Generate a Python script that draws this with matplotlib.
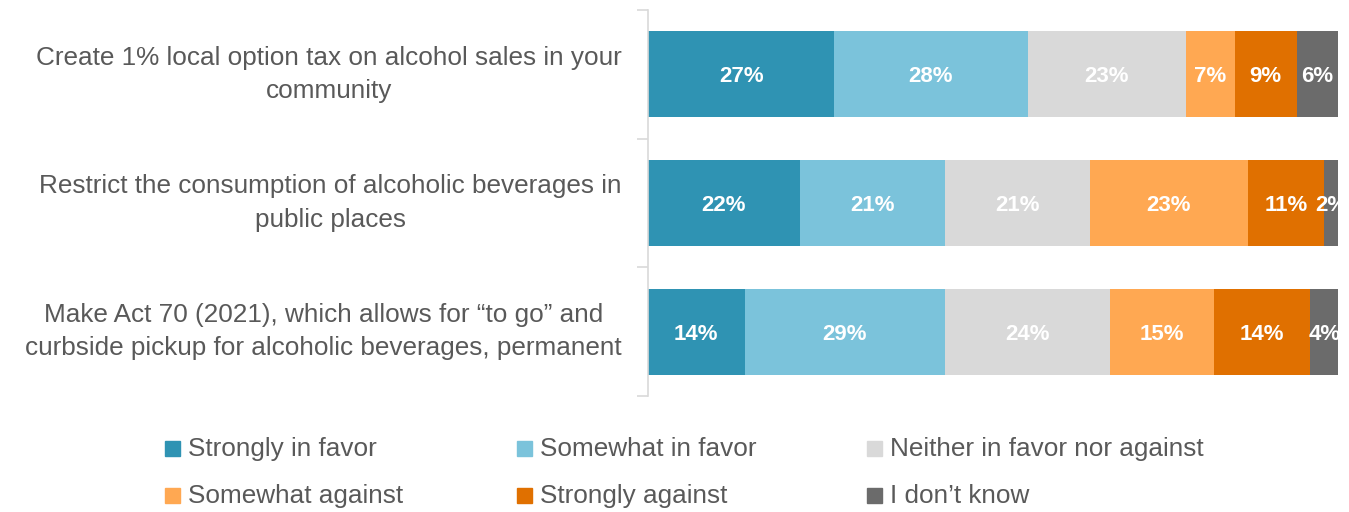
import matplotlib
matplotlib.use("Agg")
import matplotlib.pyplot as plt
from matplotlib.patches import Rectangle

plt.rcParams['font.family'] = ['Liberation Sans', 'DejaVu Sans']

questions = [
    "Create 1% local option tax on alcohol sales in your\ncommunity",
    "Restrict the consumption of alcoholic beverages in\npublic places",
    "Make Act 70 (2021), which allows for \u201cto go\u201d and\ncurbside pickup for alcoholic beverages, permanent",
]
responses = ["Strongly in favor", "Somewhat in favor", "Neither in favor nor against",
             "Somewhat against", "Strongly against", "I don\u2019t know"]
shares = [
    [27, 28, 23, 7, 9, 6],
    [22, 21, 21, 23, 11, 2],
    [14, 29, 24, 15, 14, 4],
]
colors = ["#2F93B3", "#7BC3DB", "#D9D9D9", "#FFA852", "#E07000", "#6B6B6B"]
text_grey = "#595959"

fig = plt.figure(figsize=(13.49, 5.12), dpi=100)
ax = fig.add_axes([648 / 1349, 1 - 396 / 512, 690 / 1349, 386 / 512])

ypos = list(range(len(questions)))
for i, row in enumerate(shares):
    left = 0
    for j, v in enumerate(row):
        ax.barh(i, v, left=left, height=0.67, color=colors[j], edgecolor="none")
        ax.text(left + v / 2, i, f"{v}%", ha="center", va="center_baseline", color="white",
                fontsize=16, fontweight="bold", clip_on=True)
        left += v

ax.set_xlim(0, 100)
ax.set_ylim(len(questions) - 0.5, -0.5)
ax.set_xticks([])
for side in ["top", "right", "bottom"]:
    ax.spines[side].set_visible(False)
ax.spines["left"].set_color("#D9D9D9")
ax.spines["left"].set_linewidth(1.2)

# tick marks sit between categories, labels at the centres
ax.set_yticks([-0.5, 0.5, 1.5, 2.5])
ax.set_yticklabels([])
ax.tick_params(axis="y", which="major", length=8, color="#D9D9D9", width=1.2)
ax.set_yticks(ypos, minor=True)
ax.set_yticklabels(questions, minor=True)
ax.tick_params(axis="y", which="minor", length=0, pad=19, labelsize=18.8, labelcolor=text_grey)
for lbl in ax.get_yticklabels(minor=True):
    lbl.set_multialignment("center")
    lbl.set_verticalalignment("center")
    lbl.set_linespacing(1.5)

# legend, two rows of three
col_x = [165, 517, 867]
row_y = [449, 496]
for k, name in enumerate(responses):
    x = col_x[k % 3]
    y = row_y[k // 3]
    fig.patches.append(Rectangle((x / 1349, 1 - (y + 7) / 512), 15 / 1349, 15 / 512,
                                 transform=fig.transFigure, color=colors[k]))
    fig.text((x + 23) / 1349, 1 - y / 512, name, ha="left", va="center",
             fontsize=18.8, color=text_grey)

fig.savefig("out.png", dpi=100)
